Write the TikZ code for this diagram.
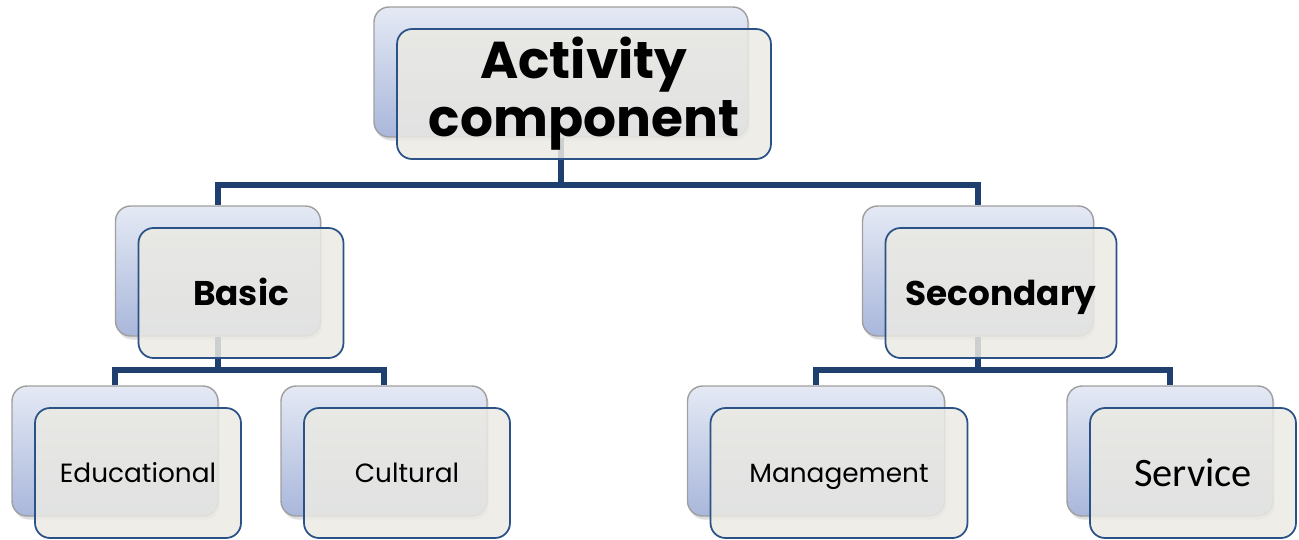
\documentclass[tikz,border=0pt]{standalone}
\usepackage{fontspec}
\setmainfont{Poppins}
\newfontfamily\calfont{Carlito}
\usetikzlibrary{shadows}

\definecolor{linkblue}{HTML}{1F3F6E}
\definecolor{frameblue}{HTML}{2A5286}
\definecolor{backtop}{HTML}{E4E9F4}
\definecolor{backbot}{HTML}{A9B7DB}
\definecolor{frontfill}{HTML}{EBEAE3}

\tikzset{
  backbox/.style={draw=gray!75, line width=0.8pt, rounded corners=0.3cm,
    top color=backtop, bottom color=backbot, minimum height=2.6cm,
    drop shadow={opacity=0.25, shadow xshift=1pt, shadow yshift=-2pt}},
  frontbox/.style={draw=frameblue, line width=1pt, rounded corners=0.3cm,
    fill=frontfill, fill opacity=0.85, text opacity=1, minimum height=2.6cm,
    align=center, inner sep=0pt},
  midtext/.style={font=\fontsize{19.5}{24}\selectfont\bfseries, text height=13.8pt, text depth=0pt},
  lowtext/.style={font=\fontsize{15}{18}\selectfont, text height=10.6pt, text depth=0pt},
  sertext/.style={font=\fontsize{23}{27}\selectfont\calfont, text height=14.8pt, text depth=0pt},
  link/.style={draw=linkblue, line width=3pt}
}

\begin{document}
\begin{tikzpicture}[x=0.02cm, y=-0.02cm]
  \useasboundingbox (0,0) rectangle (1299,539);

  % back boxes
  \node[backbox, minimum width=7.48cm] (topb) at (561,72) {};
  \node[backbox, minimum width=4.1cm] (basicb) at (218,271) {};
  \node[backbox, minimum width=4.62cm] (secb) at (978,271) {};
  \node[backbox, minimum width=4.12cm] (edub) at (115,451) {};
  \node[backbox, minimum width=4.12cm] (culb) at (384,451) {};
  \node[backbox, minimum width=5.14cm] (manb) at (816,451) {};
  \node[backbox, minimum width=4.12cm] (serb) at (1170,451) {};

  % connectors
  \draw[link] (topb.south) -- (561,185) -| (basicb.north);
  \draw[link] (561,185) -| (secb.north);
  \draw[link] (basicb.south) -- (218,370) -| (edub.north);
  \draw[link] (218,370) -| (culb.north);
  \draw[link] (secb.south) -- (978,370) -| (manb.north);
  \draw[link] (978,370) -| (serb.north);

  % front boxes
  \node[frontbox, minimum width=7.48cm, font=\fontsize{29.5}{33}\selectfont\bfseries] (top) at (584,94) {Activity\\component};
  \node[frontbox, midtext, minimum width=4.1cm] (basic) at (241,293) {Basic};
  \node[frontbox, midtext, minimum width=4.62cm] (sec) at (1001,293) {Secondary};
  \node[frontbox, lowtext, minimum width=4.12cm] (edu) at (138,473) {Educational};
  \node[frontbox, lowtext, minimum width=4.12cm] (cul) at (407,473) {Cultural};
  \node[frontbox, lowtext, minimum width=5.14cm] (man) at (839,473) {Management};
  \node[frontbox, sertext, minimum width=4.12cm] (ser) at (1193,473) {Service};
\end{tikzpicture}
\end{document}
